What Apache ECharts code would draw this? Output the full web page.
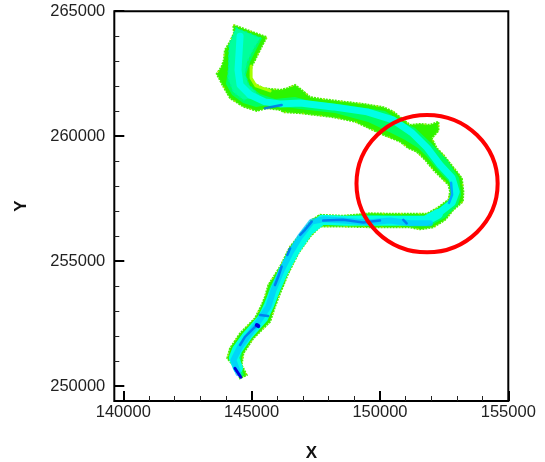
<!DOCTYPE html>
<html><head><meta charset="utf-8">
<style>html,body{margin:0;padding:0;background:#fff}#c{width:545px;height:462px}</style>
<script src="https://cdn.jsdelivr.net/npm/echarts@6/dist/echarts.min.js"></script>
</head><body><div id="c"></div>
<script>
const xMajor=[140000,145000,150000,155000];
const yMajor=[250000,255000,260000,265000];
const xMinor=[141000,142000,143000,144000,146000,147000,148000,149000,151000,152000,153000,154000];
const yMinor=[251000,252000,253000,254000,256000,257000,258000,259000,261000,262000,263000,264000];
const riverOutline=[[144290,264450],[145590,263960],[145390,263580],[145200,263180],[145000,262780],[144940,262450],[145070,262120],[145460,261920],[146110,261850],[146390,261920],[146690,262050],[146950,261850],[147280,261560],[147790,261480],[148570,261380],[149350,261290],[150130,261160],[150520,260980],[150780,260760],[151170,260450],[151560,260490],[151950,260450],[152280,260580],[152280,260220],[152020,259920],[152210,259520],[152470,259250],[152730,258910],[152990,258580],[153190,258310],[153250,257780],[153230,257380],[152860,257050],[152540,256650],[152080,256350],[151560,256270],[151170,256350],[149880,256350],[148570,256380],[147670,256380],[147280,255980],[146820,255310],[146430,254510],[146110,253710],[145910,253170],[145720,252570],[145070,251910],[144680,251310],[144610,250840],[144810,250440],[144550,250310],[144420,250640],[144220,250910],[144050,251110],[144160,251510],[144550,252110],[145130,252710],[145390,253240],[145520,253570],[145650,254040],[146110,254780],[146500,255580],[146890,256050],[147340,256650],[147670,256850],[148570,256810],[149610,256910],[150520,256890],[151820,256890],[152210,257110],[152670,257450],[152730,257780],[152670,258050],[152410,258310],[152080,258650],[151760,259050],[151430,259380],[151110,259520],[150780,259780],[150130,260050],[149490,260360],[149030,260580],[148180,260760],[146890,260920],[146240,260960],[146110,261050],[145590,261120],[145200,261010],[144680,261180],[144160,261520],[143900,261980],[143640,262490],[143830,262780],[143920,263050],[143960,263450],[144160,263780],[144310,264120]];
const springBand=[[144390,264330],[145410,263930],[145170,263450],[144940,262970],[144780,262450],[144940,262010],[145330,261690],[145910,261490],[146690,261570],[147280,261410],[148640,261250],[150200,261010],[150780,260610],[151370,260330],[151950,259770],[152610,259050],[153080,258330],[153160,257650],[153040,257250],[152540,256730],[151950,256410],[150780,256450],[148640,256450],[147740,256450],[147280,256090],[146770,255360],[146380,254560],[146070,253760],[145830,253200],[145640,252640],[145020,251960],[144630,251360],[144550,250840],[144700,250440],[144590,250360],[144430,250720],[144200,251000],[144120,251200],[144240,251480],[144630,252040],[145170,252640],[145440,253200],[145600,253600],[145720,254000],[146180,254760],[146570,255520],[146960,256000],[147390,256570],[147740,256770],[149610,256850],[150550,256810],[151840,256810],[152230,257050],[152690,257450],[152810,257850],[152730,258130],[152460,258410],[152150,258770],[151840,259170],[151480,259530],[150980,259850],[150200,260250],[149540,260570],[148250,260930],[146890,261090],[145640,261250],[145170,261170],[144670,261330],[144240,261650],[144000,262090],[144080,262650],[144080,263250],[144240,263770],[144430,264130]];
const cyanTop=[[144390,264330],[145330,263930],[145050,263450],[144820,262970],[144740,262490],[144860,262090],[145250,261650],[144700,261450],[144280,261770],[144080,262330],[144120,263050],[144120,263650]];
const cyanLobe=[[144550,264000],[144470,262650],[144550,262050],[144940,261650]];
const cyanUpper=[[144940,261650],[145520,261370],[146110,261290],[146890,261330],[148170,261170],[149500,260970],[150510,260650],[151250,260130],[151840,259530],[152340,258850],[152810,258330],[152970,257770],[152810,257330],[152260,256890]];
const cyanLower=[[152260,256890],[151760,256610],[150780,256610],[148640,256610],[147740,256650],[147200,256200],[146690,255440],[146260,254640],[145910,253840],[145680,253240],[145440,252720],[144820,252000],[144430,251440],[144310,251120],[144470,250720]];
const skyChannel=[[144480,250510],[144290,251040],[144550,251570],[144940,252110],[145260,252570],[145650,253170],[145850,253840],[146170,254640],[146500,255310],[146890,255980],[147340,256580],[147790,256670],[148570,256620],[149490,256540],[150390,256620],[151170,256510],[151950,256510]];
const skyBend=[[152770,258130],[152810,257650],[152690,257330]];
const limeBend=[[144980,262810],[144980,262330],[145170,262010],[145720,261810]];
const blueStreaks=[
  [[147340,256580],[147080,256250],[146890,256050]],
  [[146500,255510],[146390,255240]],
  [[146170,254780],[146040,254380],[145910,254040]],
  [[145330,252840],[145640,252800]],
  [[145200,252440],[144740,251970],[144550,251640]],
  [[147790,256620],[148570,256650],[149350,256540],[150000,256620]],
  [[150910,256650],[151040,256510]],
  [[145520,261120],[146170,261250]]
];
const deepStreak=[[144350,250710],[144580,250350]];
const deepSpot=[[145200,252440],[145260,252400]];
const circleCenter=[151835,258100];
const circleRadius=[2750];

function poly(pts,fill,stroke,dash,w){
  return {type:'custom',coordinateSystem:'cartesian2d',data:pts,encode:{x:0,y:1},silent:true,
    renderItem:(p,api)=>p.dataIndex!==0?null:({type:'polygon',shape:{points:pts.map(q=>api.coord(q))},
      style:{fill:fill,stroke:stroke||fill,lineWidth:stroke?(w||1):0,lineDash:dash||null}})};
}
function path(pts,color,w,op){
  return {type:'line',data:pts,showSymbol:false,symbol:'none',silent:true,smooth:false,
    lineStyle:{color:color,width:w,cap:'round',join:'round',opacity:op==null?1:op}};
}
const ink='#222';
const labelFont={fontFamily:'Liberation Sans',fontSize:16.5,color:ink};
const titleFont={fontFamily:'Liberation Sans',fontSize:17,fontWeight:'bold',color:'#111'};
const series=[
  poly(riverOutline,'#2cf500','#44f000',[2,1],2),
  poly(riverOutline,'transparent','#d8e000',[1,17],1.5),
  path(limeBend,'#a4ff00',3),
  poly(springBand,'#00ff60'),
  poly(cyanTop,'#00ff9c','#00f0a0',[2,3],1.5),
  path(cyanLobe,'#00ffe4',7),
  path(cyanUpper,'#00ffe4',7),
  path(cyanLower,'#00ffe4',10),
  path(skyChannel,'#00c8ff',6,0.75),
  path(skyBend,'#00a8ff',2.5),
  ...blueStreaks.map(s=>path(s,'#0070f0',2.5,0.85)),
  path(deepStreak,'#0000e0',3),
  path(deepSpot,'#0000e0',4),
  {type:'custom',coordinateSystem:'cartesian2d',data:[circleCenter],encode:{x:0,y:1},silent:true,z:5,
    renderItem:(p,api)=>{
      const c=api.coord(circleCenter),s=api.size([circleRadius[0],circleRadius[0]]);
      return {type:'ellipse',shape:{cx:c[0],cy:c[1],rx:s[0],ry:s[1]},style:{fill:'none',stroke:'#ff0000',lineWidth:4}};
    }}
];
const xBase={type:'value',min:139650,max:155000,splitLine:{show:false}};
const yBase={type:'value',min:249400,max:265000,splitLine:{show:false}};
const chart=echarts.init(document.getElementById('c'),null,{renderer:'canvas'});
chart.setOption({
  animation:false,backgroundColor:'#fff',
  grid:{left:114.3,top:11.2,width:394,height:389.8,show:true,borderColor:'#000',borderWidth:2,backgroundColor:'transparent',outerBoundsMode:'none'},
  xAxis:[
    {...xBase,name:'X',nameLocation:'middle',nameGap:44,nameTextStyle:titleFont,
     axisLine:{show:false},
     axisTick:{show:true,inside:true,length:10,customValues:xMajor,lineStyle:{color:'#000',width:2}},
     axisLabel:{show:true,margin:3,customValues:xMajor,formatter:v=>String(v),hideOverlap:false,...labelFont}},
    {...xBase,position:'bottom',axisLine:{show:false},axisLabel:{show:false},
     axisTick:{show:true,inside:true,length:5,customValues:xMinor,lineStyle:{color:'#222',width:1}}}
  ],
  yAxis:[
    {...yBase,name:'Y',nameLocation:'middle',nameGap:84,nameRotate:90,nameTextStyle:titleFont,
     axisLine:{show:false},
     axisTick:{show:true,inside:true,length:10,customValues:yMajor,lineStyle:{color:'#000',width:2}},
     axisLabel:{show:true,margin:9,padding:[2,0,0,0],customValues:yMajor,formatter:v=>String(v),...labelFont}},
    {...yBase,position:'left',axisLine:{show:false},axisLabel:{show:false},
     axisTick:{show:true,inside:true,length:5,customValues:yMinor,lineStyle:{color:'#222',width:1}}}
  ],
  series:series
});
</script></body></html>
